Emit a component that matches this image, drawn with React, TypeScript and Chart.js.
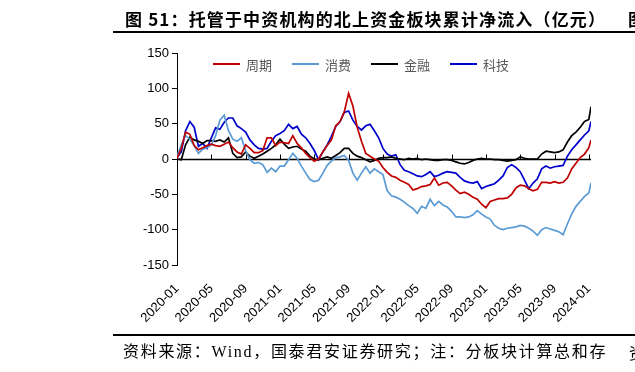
import React, { useEffect, useRef } from 'react';
import { Chart, registerables } from 'chart.js';

Chart.register(...registerables);

const titleText = '图 51：托管于中资机构的北上资金板块累计净流入（亿元）';
const footerText = '资料来源：Wind，国泰君安证券研究；注：分板块计算总和存';

const tickLabels = [
  '2020-01', '2020-05', '2020-09', '2021-01', '2021-05', '2021-09', '2022-01',
  '2022-05', '2022-09', '2023-01', '2023-05', '2023-09', '2024-01',
];

const seriesNames = ['周期', '消费', '金融', '科技'];
const seriesColors = ['#C00000', '#5B9BD5', '#000000', '#0000CC'];

// months since 2020-01, sampled every half month; the last entry is the latest observation
const monthPos: number[] = [];
for (let i = 0; i <= 96; i++) monthPos.push(i / 2);
monthPos.push(48.25);

const cyclical = [
  1, 15, 38, 35, 19, 13, 16, 19, 21, 19,
  18, 21, 24, 16, 10, 7, 20, 15, 9, 9,
  12, 30, 30, 19, 24, 23, 22, 33, 22, 16,
  8, 2, -3, 0, 10, 19, 27, 47, 53, 67,
  93, 75, 45, 25, 8, 4, 0, -3, -12, -19,
  -24, -26, -30, -33, -36, -44, -42, -39, -38, -36,
  -27, -37, -34, -33, -38, -44, -49, -47, -50, -54,
  -57, -64, -69, -60, -58, -56, -56, -55, -50, -41,
  -37, -38, -42, -45, -43, -33, -33, -34, -32, -34,
  -33, -27, -14, -6, 2, 7, 16, 27,
];

const consumer = [
  3, 20, 33, 28, 19, 8, 14, 16, 20, 33,
  55, 62, 40, 28, 25, 30, 12, -1, -6, -5,
  -8, -19, -13, -18, -10, -10, -1, 8, 1, -10,
  -20, -29, -32, -30, -20, -9, -3, 2, 3, 5,
  -2, -20, -30, -20, -11, -20, -14, -18, -22, -45,
  -52, -54, -57, -61, -66, -70, -77, -67, -70, -57,
  -66, -60, -65, -68, -74, -82, -82, -83, -82, -79,
  -73, -78, -82, -85, -94, -98, -100, -98, -97, -96,
  -94, -95, -98, -102, -108, -100, -97, -99, -101, -103,
  -107, -92, -78, -67, -60, -53, -48, -34,
];

const financial = [
  0, -1, 20, 31, 27, 25, 22, 26, 26, 25,
  27, 24, 30, 8, 2, 3, 10, 4, 1, 4,
  7, 11, 15, 20, 28, 21, 15, 17, 18, 14,
  11, 4, 0, -1, 1, 3, 1, 5, 9, 15,
  15, 8, 4, 2, -1, -4, -2, 1, 2, 2,
  3, 1, 0, -1, 1, 0, 1, -1, 0, -1,
  -2, -2, -1, -1, -2, -4, -6, -7, -5, -2,
  0, 1, 0, 0, -1, -1, -2, -3, -2, -1,
  3, 1, 0, 0, 0, 7, 11, 10, 9, 10,
  13, 24, 33, 38, 45, 53, 56, 74,
];

const tech = [
  2, 10, 40, 53, 45, 18, 22, 15, 30, 44,
  42, 52, 58, 58, 47, 43, 38, 27, 20, 15,
  14, 15, 25, 33, 36, 40, 49, 43, 46, 35,
  30, 22, 12, -1, 10, 20, 32, 46, 53, 66,
  68, 55, 46, 41, 47, 49, 40, 30, 15, 7,
  4, 6, -8, -16, -18, -21, -24, -25, -22, -18,
  -25, -23, -20, -18, -19, -20, -26, -31, -33, -34,
  -32, -42, -39, -37, -35, -30, -24, -12, -8, -12,
  -18, -30, -42, -34, -28, -14, -10, -13, -11, -10,
  -9, 4, 13, 20, 27, 34, 40, 53,
];

const seriesValues = [cyclical, consumer, financial, tech];

const zeroLinePlugin = {
  id: 'zeroLine',
  beforeDatasetsDraw(chart: any) {
    const { ctx, chartArea, scales } = chart;
    const y0 = Math.round(scales.y.getPixelForValue(0)) + 0.5;
    ctx.save();
    ctx.strokeStyle = '#000';
    ctx.lineWidth = 1.3;
    ctx.beginPath();
    ctx.moveTo(chartArea.left, y0);
    ctx.lineTo(chartArea.right, y0);
    ctx.stroke();
    ctx.lineWidth = 1;
    scales.x.ticks.forEach((t: any) => {
      if (t.value === 0) return;
      const x = Math.round(scales.x.getPixelForValue(t.value)) + 0.5;
      ctx.beginPath();
      ctx.moveTo(x, y0);
      ctx.lineTo(x, y0 - 5);
      ctx.stroke();
    });
    ctx.restore();
  },
};

const legendPlugin = {
  id: 'innerLegend',
  afterDraw(chart: any) {
    const { ctx, chartArea } = chart;
    ctx.save();
    ctx.font = '13px "Noto Sans CJK SC", sans-serif';
    ctx.textBaseline = 'middle';
    let x = chartArea.left + 36;
    const y = chartArea.top + 11;
    chart.data.datasets.forEach((ds: any) => {
      ctx.strokeStyle = ds.borderColor;
      ctx.lineWidth = 2;
      ctx.beginPath();
      ctx.moveTo(x, y);
      ctx.lineTo(x + 27, y);
      ctx.stroke();
      ctx.fillStyle = '#595959';
      ctx.fillText(ds.label, x + 33, y + 1);
      x += 33 + ctx.measureText(ds.label).width + 20;
    });
    ctx.restore();
  },
};

export default function App() {
  const canvasRef = useRef<HTMLCanvasElement | null>(null);

  useEffect(() => {
    if (!canvasRef.current) return;
    const chart = new Chart(canvasRef.current, {
      type: 'line',
      data: {
        datasets: seriesNames.map((name, i) => ({
          label: name,
          data: seriesValues[i].map((v, j) => ({ x: monthPos[j], y: v })),
          borderColor: seriesColors[i],
          backgroundColor: seriesColors[i],
          borderWidth: 1.7,
          pointRadius: 0,
          tension: 0,
          fill: false,
        })),
      },
      options: {
        animation: false,
        responsive: false,
        devicePixelRatio: 1,
        layout: { padding: { left: 137, top: 53, right: 44, bottom: 47 } },
        plugins: {
          legend: { display: false },
          tooltip: { enabled: false },
          title: { display: false },
        },
        scales: {
          x: {
            type: 'linear',
            min: 0,
            max: 48.25,
            afterBuildTicks: (s: any) => {
              s.ticks = tickLabels.map((_, i) => ({ value: i * 4 }));
            },
            afterFit: (s: any) => {
              s.height = 60;
            },
            grid: { display: false, drawTicks: false },
            border: { display: false },
            ticks: {
              autoSkip: false,
              maxRotation: 45,
              minRotation: 45,
              padding: 16,
              color: '#000',
              font: { family: '"Liberation Sans", Arial, sans-serif', size: 13 },
              callback: (_v: any, i: number) => tickLabels[i],
            },
          },
          y: {
            min: -150,
            max: 150,
            afterFit: (s: any) => {
              s.width = 40;
            },
            grid: {
              drawOnChartArea: false,
              drawTicks: true,
              tickLength: 5,
              color: '#000',
            },
            border: { display: true, color: '#000', width: 1 },
            ticks: {
              stepSize: 50,
              padding: 3,
              color: '#000',
              font: { family: '"Liberation Sans", Arial, sans-serif', size: 13 },
            },
          },
        },
      },
      plugins: [zeroLinePlugin, legendPlugin],
    });
    return () => chart.destroy();
  }, []);

  return (
    <div
      style={{
        position: 'absolute',
        left: 0,
        top: 0,
        width: 635,
        height: 372,
        overflow: 'hidden',
        background: '#fff',
      }}
    >
      <canvas ref={canvasRef} width={635} height={372} style={{ position: 'absolute', left: 0, top: 0 }} />
      <div
        style={{
          position: 'absolute',
          left: 125,
          top: 9,
          whiteSpace: 'nowrap',
          font: 'bold 17px "Noto Sans CJK SC", sans-serif',
          letterSpacing: '1.15px',
          lineHeight: '20px',
          color: '#000',
        }}
      >
        {titleText}
      </div>
      <div
        style={{
          position: 'absolute',
          left: 628,
          top: 9,
          whiteSpace: 'nowrap',
          font: 'bold 17px "Noto Sans CJK SC", sans-serif',
          lineHeight: '20px',
          color: '#000',
        }}
      >
        图
      </div>
      <div style={{ position: 'absolute', left: 113, top: 31, width: 522, height: 2, background: '#000' }} />
      <div style={{ position: 'absolute', left: 113, top: 334, width: 522, height: 2, background: '#000' }} />
      <div
        style={{
          position: 'absolute',
          left: 123,
          top: 342,
          whiteSpace: 'nowrap',
          fontFamily: '"Liberation Serif", "Noto Sans CJK SC", serif',
          fontSize: 16,
          letterSpacing: '1.7px',
          lineHeight: '20px',
          color: '#000',
        }}
      >
        {footerText}
      </div>
      <div
        style={{
          position: 'absolute',
          left: 629,
          top: 342,
          whiteSpace: 'nowrap',
          fontFamily: '"Noto Sans CJK SC", serif',
          fontSize: 16,
          lineHeight: '20px',
          color: '#000',
        }}
      >
        资
      </div>
    </div>
  );
}
